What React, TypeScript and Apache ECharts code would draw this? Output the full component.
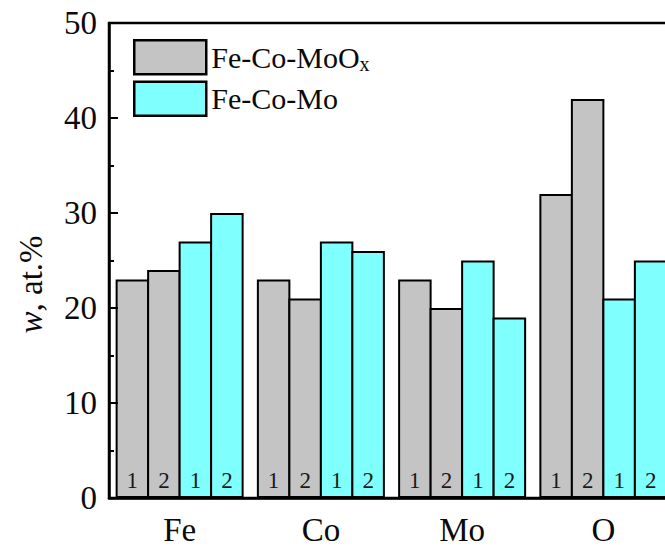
import React, { useEffect, useRef } from "react";
import * as echarts from "echarts";

const categories = ["Fe", "Co", "Mo", "O"];
const oxideSample1 = [23, 23, 23, 32];
const oxideSample2 = [24, 21, 20, 42];
const metalSample1 = [27, 27, 25, 21];
const metalSample2 = [30, 26, 19, 25];
const yTicks = { min: 0, max: 50, interval: 10 };
const legendNames = ["Fe-Co-MoOx", "Fe-Co-Mo"];
const sampleLabels = ["1", "2", "1", "2"];

const FONT = "'Liberation Serif', 'Times New Roman', serif";
const GRAY = "#c4c4c4";
const CYAN = "#80ffff";
const INK = "#0a0a0a";

export default function App() {
  const ref = useRef<HTMLDivElement>(null);
  useEffect(() => {
    document.body.style.margin = "0";
    const chart = echarts.init(ref.current!, null, { renderer: "svg" });
    const mk = (name: string, data: number[], color: string, lbl: string) => ({
      type: "bar",
      name,
      data,
      barWidth: 33.5,
      barGap: "-5.97%",
      itemStyle: { color, borderColor: "#000", borderWidth: 2 },
      label: {
        show: true,
        position: "insideBottom",
        distance: 6,
        formatter: lbl,
        fontFamily: FONT,
        fontSize: 23,
        color: "#1a1a1a",
      },
    });
    chart.setOption({
      animation: false,
      backgroundColor: "#fff",
      grid: {
        left: 109,
        top: 23,
        width: 565,
        height: 475,
        outerBoundsMode: "none",
        containLabel: false,
        show: true,
        borderColor: "#000",
        borderWidth: 2.5,
        backgroundColor: "transparent",
      },
      legend: {
        orient: "vertical",
        left: 133,
        top: 39,
        padding: 0,
        itemWidth: 72,
        itemHeight: 34,
        itemGap: 5,
        icon: "rect",
        data: [
          { name: legendNames[0], itemStyle: { color: GRAY, borderColor: "#000", borderWidth: 2.5 } },
          { name: legendNames[1], itemStyle: { color: CYAN, borderColor: "#000", borderWidth: 2.5 } },
        ],
        formatter: (n: string) => (n === "Fe-Co-MoOx" ? "Fe-Co-MoO{sub|x}" : n),
        textStyle: {
          fontFamily: FONT,
          fontSize: 30,
          color: INK,
          rich: {
            sub: { fontFamily: FONT, fontSize: 20, color: INK, padding: [14, 0, 0, 0] },
          },
        },
      },
      xAxis: {
        type: "category",
        data: categories,
        axisLine: { lineStyle: { color: "#000", width: 2.5 } },
        axisTick: { show: false },
        axisLabel: { fontFamily: FONT, fontSize: 33, color: INK, margin: 15 },
        z: 10,
      },
      yAxis: {
        type: "value",
        min: yTicks.min,
        max: yTicks.max,
        interval: yTicks.interval,
        name: "{i|w}, at.%",
        nameLocation: "middle",
        nameRotate: 90,
        nameGap: 62,
        nameTextStyle: {
          fontFamily: FONT,
          fontSize: 33,
          color: INK,
          padding: [0, 48, 0, 0],
          rich: { i: { fontFamily: FONT, fontSize: 33, fontStyle: "italic", color: INK } },
        },
        splitLine: { show: false },
        axisLine: { show: true, lineStyle: { color: "#000", width: 2.5 } },
        axisTick: { show: true, inside: true, length: 9, lineStyle: { color: "#000", width: 2 } },
        minorTick: { show: true, splitNumber: 2, length: 5, lineStyle: { color: "#000", width: 2 } },
        axisLabel: { fontFamily: FONT, fontSize: 33, color: INK, margin: 12 },
        z: 10,
      },
      series: [
        mk(legendNames[0], oxideSample1, GRAY, sampleLabels[0]),
        mk(legendNames[0], oxideSample2, GRAY, sampleLabels[1]),
        mk(legendNames[1], metalSample1, CYAN, sampleLabels[2]),
        mk(legendNames[1], metalSample2, CYAN, sampleLabels[3]),
      ],
    });
    return () => chart.dispose();
  }, []);
  return <div ref={ref} style={{ width: 665, height: 548 }} />;
}
